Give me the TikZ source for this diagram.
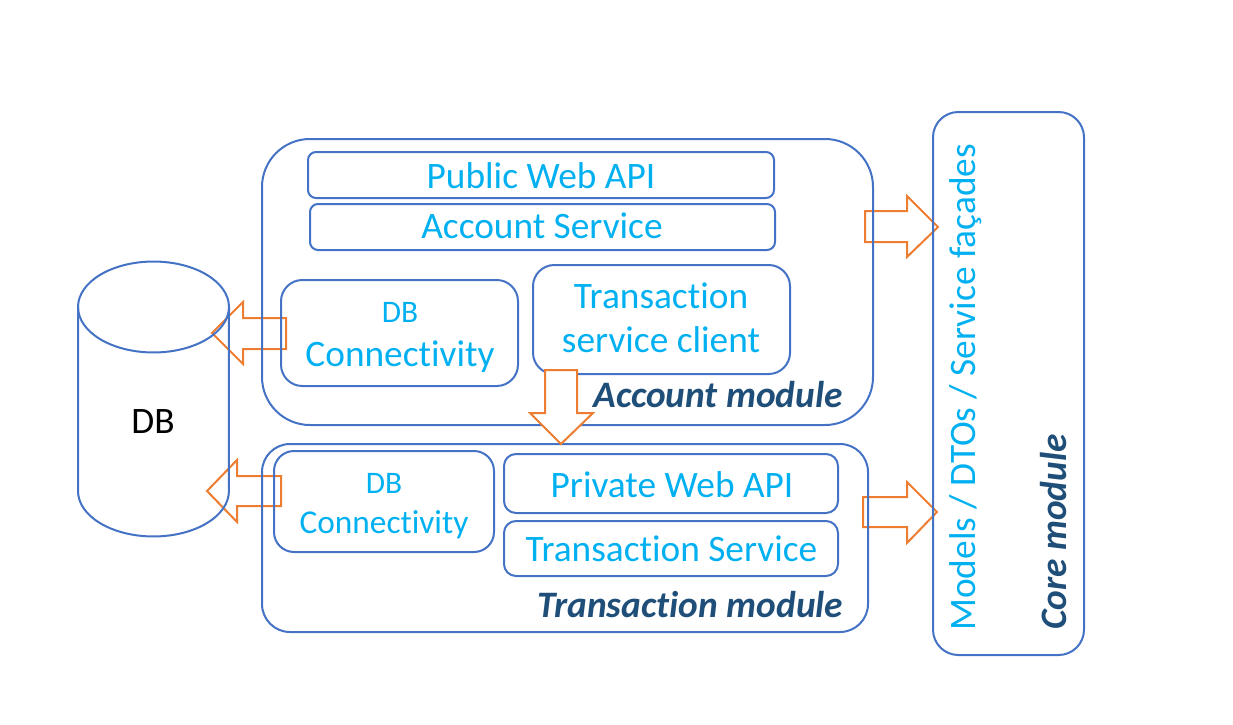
\documentclass[tikz,border=0pt]{standalone}
\usepackage{fontspec}
\setmainfont{Carlito}[Ligatures={NoCommon,NoRare,NoContextual}]
\usetikzlibrary{fit}
\definecolor{boxblue}{HTML}{4472C4}
\definecolor{txtblue}{HTML}{00B0F0}
\definecolor{arrorange}{HTML}{ED7D31}
\definecolor{darkblue}{HTML}{1F4E79}
\begin{document}
\begin{tikzpicture}[x=0.75pt,y=-0.75pt,
  boxline/.style={draw=boxblue,line width=1.5pt},
  box/.style={boxline,inner sep=0pt,outer sep=0pt,rectangle},
  blockarrow/.style={draw=arrorange,line width=1.5pt,fill=white,line join=miter},
  lbl/.style={text=txtblue,font=\fontsize{28}{34}\selectfont,inner sep=0pt,anchor=base},
  modlbl/.style={text=darkblue,font=\fontsize{28}{34}\selectfont\bfseries\itshape,inner sep=0pt},
]
\useasboundingbox (0,0) rectangle (1233,725);

% block arrows below the boxes
\draw[blockarrow] (286,318) -- (243,318) -- (243,302) -- (212,333) -- (243,364) -- (243,349) -- (286,349) -- cycle;
\draw[blockarrow] (281,476) -- (237,476) -- (237,460) -- (207,491) -- (237,522) -- (237,506) -- (281,506) -- cycle;
\draw[blockarrow] (865,211) -- (907,211) -- (907,196) -- (938,227) -- (907,257) -- (907,242) -- (865,242) -- cycle;
\draw[blockarrow] (863,497) -- (907,497) -- (907,482) -- (937,512) -- (907,543) -- (907,527) -- (863,527) -- cycle;

% database cylinder
\draw[boxline] (78,307) -- (78,491) arc[start angle=180, end angle=360, x radius=56.6pt, y radius=34.1pt] -- (229,307);
\draw[boxline] (153.5,307) ellipse[x radius=56.6pt, y radius=34.1pt];
\node[lbl, text=black] (tDB) at (153,433) {DB};

% modules
\node[box, rounded corners=36pt, fit={(262,139) (873,425)}] (acct) {};
\node[box, rounded corners=21pt, fit={(262,444) (868,632)}] (txm) {};
\node[box, rounded corners=19pt, fit={(933,112) (1084,655)}] (core) {};

% inner boxes
\node[box, rounded corners=6pt, fit={(308,152) (774,198)}] (pub) {};
\node[box, rounded corners=6pt, fit={(310,204) (775,250)}] (asvc) {};
\node[box, rounded corners=16pt, fit={(281,280) (518,386)}] (dbc1) {};
\node[box, rounded corners=16pt, fit={(533,265) (790,374)}] (txc) {};
\node[box, rounded corners=15pt, fit={(274,451) (494,552)}] (dbc2) {};
\node[box, rounded corners=9pt, fit={(504,454) (838,513)}] (priv) {};
\node[box, rounded corners=9pt, fit={(504,521) (838,576)}] (tsvc) {};

% labels
\node[lbl] (tPub) at (541,188) {Public Web API};
\node[lbl] (tAS) at (542,238) {Account Service};
\node[lbl, font=\fontsize{23.5}{28}\selectfont] (tDB1) at (400,322) {DB};
\node[lbl] (tConn1) at (400,366) {Connectivity};
\node[lbl] (tTx1) at (661,308) {Transaction};
\node[lbl] (tTx2) at (661,352) {service client};
\node[modlbl, anchor=base east] (tAcct) at (843,407) {Account module};
\node[lbl, font=\fontsize{23.5}{28}\selectfont] (tDB2) at (384,493) {DB};
\node[lbl, font=\fontsize{25}{30}\selectfont] (tConn2) at (384,533) {Connectivity};
\node[lbl] (tPriv) at (672,497) {Private Web API};
\node[lbl] (tTS) at (671.5,561) {Transaction Service};
\node[modlbl, anchor=base east] (tTxm) at (843.5,617) {Transaction module};
\node[lbl, rotate=90, anchor=base west] (tModels) at (975,631) {Models / DTOs / Service façades};
\node[modlbl, rotate=90, anchor=base west] (tCore) at (1066,630) {Core module};

% down arrow on top
\draw[blockarrow] (545,370) -- (577,370) -- (577,413) -- (593,413) -- (561,444) -- (530,413) -- (545,413) -- cycle;
\end{tikzpicture}
\end{document}
